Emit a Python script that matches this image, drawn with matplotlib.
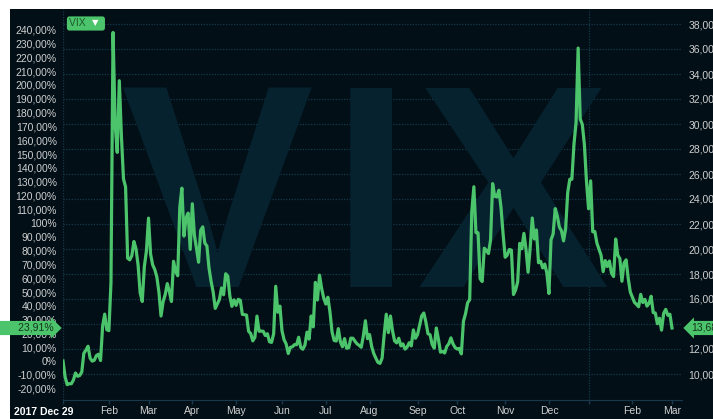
import numpy as np
import pandas as pd
import matplotlib
matplotlib.use('Agg')
from matplotlib import pyplot as plt
from matplotlib import transforms
from matplotlib.patches import Rectangle

plt.rcParams['font.family'] = ['Liberation Sans', 'DejaVu Sans']

# VIX daily closes, one list per month (trading days only)
vix_dec17 = [11.04]
vix_jan18 = [9.77, 9.15, 9.22, 9.22, 9.52, 10.08, 9.82, 9.88, 10.16, 11.66, 11.91, 12.22, 11.27,
             11.03, 11.10, 11.47, 11.58, 11.08, 13.84, 14.79, 13.54]
vix_feb18 = [13.47, 17.31, 37.32, 29.98, 27.73, 33.46, 29.06, 25.61, 24.97, 19.26, 19.13, 19.46,
             20.60, 20.02, 18.72, 16.49, 15.80, 18.59, 19.85]
vix_mar18 = [22.47, 19.59, 18.73, 18.36, 17.76, 16.54, 14.64, 15.78, 16.35, 17.23, 16.59, 15.80,
             19.02, 18.20, 17.86, 23.34, 24.87, 21.03, 22.50, 22.87, 19.97]
vix_apr18 = [23.62, 21.10, 20.06, 18.94, 21.49, 21.77, 20.47, 20.24, 18.49, 17.41, 16.56, 15.25,
             15.60, 15.96, 16.88, 16.34, 18.02, 17.84, 16.24, 15.41, 15.93]
vix_may18 = [15.49, 15.97, 15.90, 14.77, 14.75, 14.71, 13.42, 13.23, 12.65, 12.93, 14.63, 13.42,
             13.43, 13.42, 13.08, 13.22, 12.58, 12.53, 13.22, 17.02, 14.94, 15.43]
vix_jun18 = [13.46, 12.74, 12.40, 11.64, 12.13, 12.18, 12.35, 12.34, 12.94, 12.12, 11.98, 12.31,
             13.35, 12.79, 14.64, 13.77, 17.33, 15.92, 17.91, 16.85, 16.09]
vix_jul18 = [15.60, 16.14, 14.97, 13.37, 12.69, 12.64, 13.63, 12.58, 12.18, 12.83, 12.06, 12.10,
             12.87, 12.86, 12.62, 12.41, 12.29, 12.14, 13.03, 14.26, 12.83]
vix_aug18 = [13.15, 12.19, 11.64, 11.27, 10.93, 10.85, 11.27, 13.16, 14.78, 13.31, 14.64, 13.45,
             12.64, 12.49, 12.86, 12.25, 12.41, 11.99, 12.16, 12.50, 12.25, 13.53, 12.86]
vix_sep18 = [13.16, 13.91, 14.65, 14.88, 14.16, 13.22, 13.14, 12.37, 12.07, 13.68, 12.79, 11.75,
             11.80, 11.68, 12.20, 12.42, 12.89, 12.41, 12.12]
vix_oct18 = [12.00, 12.05, 11.61, 14.22, 14.82, 15.69, 15.95, 22.96, 24.98, 21.31, 21.30, 17.62,
             17.40, 20.06, 19.89, 19.64, 20.71, 25.23, 24.22, 24.16, 24.70, 23.35, 21.23]
vix_nov18 = [19.34, 19.51, 19.96, 19.91, 16.36, 16.72, 17.36, 20.45, 20.02, 21.25, 19.98, 18.14,
             20.10, 22.48, 20.80, 21.52, 18.90, 19.02, 18.49, 18.79, 18.07]
vix_dec18 = [16.44, 20.74, 21.19, 23.23, 22.64, 21.76, 21.46, 20.65, 21.63, 24.52, 25.58, 25.58,
             28.38, 30.11, 36.07, 30.41, 29.96, 28.34, 25.42]
vix_jan19 = [23.22, 25.45, 21.38, 21.40, 20.47, 19.98, 19.50, 18.19, 19.07, 18.60, 19.04, 18.06,
             17.80, 20.80, 19.52, 19.23, 17.42, 18.87, 19.13, 17.66, 16.57]
vix_feb19 = [16.14, 15.73, 15.57, 15.38, 16.37, 15.72, 15.97, 15.43, 15.65, 16.22, 14.91, 14.88,
             14.02, 14.46, 13.51, 14.85, 15.17, 14.70, 14.78]
vix_mar19 = [13.68]

market_holidays = ['2018-01-01', '2018-01-15', '2018-02-19', '2018-03-30', '2018-05-28',
                   '2018-07-04', '2018-09-03', '2018-11-22', '2018-12-05', '2018-12-25',
                   '2019-01-01', '2019-01-21', '2019-02-18']

right_ticks = np.arange(10, 39, 2)
left_ticks = np.arange(-20, 241, 10)

vix = np.array(vix_dec17 + vix_jan18 + vix_feb18 + vix_mar18 + vix_apr18 + vix_may18 + vix_jun18
               + vix_jul18 + vix_aug18 + vix_sep18 + vix_oct18 + vix_nov18 + vix_dec18
               + vix_jan19 + vix_feb19 + vix_mar19)
dates = pd.bdate_range('2017-12-29', '2019-03-01')
dates = dates[~dates.isin(pd.to_datetime(market_holidays))]
assert len(dates) == len(vix)
x = np.arange(len(vix))
base = vix[0]

BG = '#020f17'
GRID = '#15394c'
GREEN = '#4cc46b'
LABEL = '#cfcfcf'
TAGTEXT = '#15331d'

W, H = 713, 419
fig = plt.figure(figsize=(W / 100, H / 100), dpi=100, facecolor='white')
fig.patches.append(Rectangle((10 / W, 0), 1 - 10 / W, 1 - 9 / H, transform=fig.transFigure,
                             fc=BG, ec='none', zorder=-10))

ax = fig.add_axes([63 / W, 1 - 400 / H, 619 / W, 391 / H])
ax.set_facecolor(BG)
ax.plot(x, vix, color=GREEN, lw=2.3, solid_joinstyle='round', zorder=3)
ax.set_xlim(0, x[-1] + 4.8)
ax.set_ylim(7.92, 39.2)

# big watermark
for letter, xpos in zip('VIX', [0.248, 0.498, 0.727]):
    ax.text(xpos, 0.289, letter, transform=ax.transAxes, fontsize=208, fontweight='bold',
            color='#06222f', ha='center', va='baseline', zorder=1)

# right axis (VIX level)
ax.yaxis.tick_right()
ax.set_yticks(right_ticks)
ax.set_yticklabels([f'{v:.2f}'.replace('.', ',') for v in right_ticks])
ax.tick_params(axis='y', length=0, pad=4.5, labelcolor=LABEL, labelsize=7.5)
ax.yaxis.grid(True, ls=(0, (1, 1.2)), color=GRID, lw=0.9, zorder=0.5)
ax.set_axisbelow(True)

# left axis (% change from first close)
sec = ax.secondary_yaxis('left', functions=(lambda v: (v / base - 1) * 100,
                                            lambda p: base * (1 + p / 100)))
sec.set_yticks(left_ticks)
sec.set_yticklabels([f'{p}%' if p in (0, 100) else f'{p:.2f}%'.replace('.', ',') for p in left_ticks])
sec.tick_params(axis='y', length=0, pad=4.5, labelcolor=LABEL, labelsize=7.5)
for s in sec.spines.values():
    s.set_visible(False)

for side in ['top', 'left', 'right']:
    ax.spines[side].set_visible(False)
ax.spines['bottom'].set_color('#17394b')

# month ticks on the first trading day of each month
month_first = pd.Series(x, index=dates).groupby([dates.year, dates.month]).first()
tick_pos, tick_lab = [], []
year_starts = []
for (yr, mo), idx in month_first.items():
    if idx == 0:
        continue
    if mo == 1:
        if idx > 5:
            year_starts.append(idx)
            tick_pos.append(idx)
            tick_lab.append('')
        continue
    tick_pos.append(idx)
    tick_lab.append(dates[idx].strftime('%b'))
ax.set_xticks([0] + tick_pos)
ax.set_xticklabels([''] + tick_lab)
ax.tick_params(axis='x', length=3, width=1, color='#17394b', pad=1.5, labelcolor=LABEL, labelsize=7.5)

for xv in [0] + year_starts:
    ax.axvline(xv, ls=(0, (1, 1.2)), color=GRID, lw=0.9, zorder=0.5)

start_tf = transforms.blended_transform_factory(ax.transData, ax.transAxes)
start_tf = transforms.offset_copy(start_tf, fig=fig, x=10, y=0, units='dots')
ax.text(0, -0.031, dates[0].strftime('%Y %b ') + str(dates[0].day), transform=start_tf,
        ha='right', va='center', fontsize=7.5, fontweight='bold', color='white')

# last value tags
last_pct = (vix[-1] / base - 1) * 100
left_tf = transforms.blended_transform_factory(ax.transAxes, ax.transData)
left_tf = transforms.offset_copy(left_tf, fig=fig, x=-9, y=0, units='dots')
ax.text(0.0, vix[-1], '       ' + f'{last_pct:.2f}%'.replace('.', ','), transform=left_tf,
        ha='right', va='center', fontsize=7.5, color=TAGTEXT, zorder=5, clip_on=False,
        bbox=dict(boxstyle='rarrow,pad=0.2', fc=GREEN, ec='none'))
right_tf = transforms.blended_transform_factory(ax.transAxes, ax.transData)
right_tf = transforms.offset_copy(right_tf, fig=fig, x=9, y=0, units='dots')
ax.text(1.0, vix[-1], f'{vix[-1]:.2f}'.replace('.', ','), transform=right_tf,
        ha='left', va='center', fontsize=7.5, color=TAGTEXT, zorder=5, clip_on=False,
        bbox=dict(boxstyle='larrow,pad=0.2', fc=GREEN, ec='none'))

# series legend tag
fig.text(69 / W, 1 - 23.5 / H, 'VIX      ', ha='left', va='center', fontsize=7.5, color='#1d5a31',
         bbox=dict(boxstyle='round,pad=0.2,rounding_size=0.25', fc=GREEN, ec='none'))
fig.text(95.5 / W, 1 - 23 / H, '\u25bc', ha='center', va='center', fontsize=6, color='white',
         family=['DejaVu Sans'])

fig.savefig('out.png', dpi=100, facecolor=fig.get_facecolor())
